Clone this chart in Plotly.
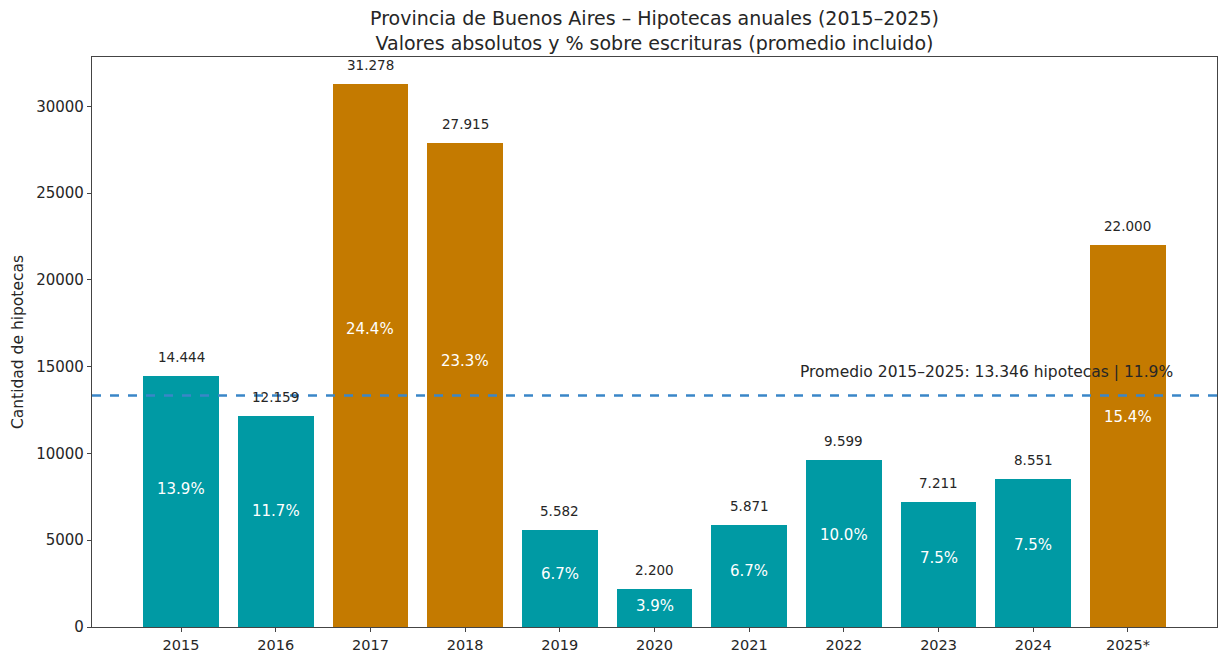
import plotly.graph_objects as go

years = ["2015", "2016", "2017", "2018", "2019", "2020", "2021", "2022", "2023", "2024", "2025*"]
hipotecas = [14444, 12159, 31278, 27915, 5582, 2200, 5871, 9599, 7211, 8551, 22000]
pct_escrituras = [13.9, 11.7, 24.4, 23.3, 6.7, 3.9, 6.7, 10.0, 7.5, 7.5, 15.4]
destacados = ["2017", "2018", "2025*"]
promedio_hip = 13346
promedio_pct = 11.9

TEAL = "#009aa4"
ORANGE = "#c47a00"
FONT = "DejaVu Sans"

def miles(v):
    return f"{v:,}".replace(",", ".")

xs = list(range(len(years)))
colors = [ORANGE if y in destacados else TEAL for y in years]

fig = go.Figure()
fig.add_trace(go.Bar(
    x=xs, y=hipotecas, width=0.8, marker=dict(color=colors, line=dict(width=0)),
    showlegend=False, hoverinfo="skip",
))

annotations = []
for x, v, p in zip(xs, hipotecas, pct_escrituras):
    annotations.append(dict(x=x, y=v, text=miles(v), showarrow=False, xref="x", yref="y",
                            yanchor="middle", yshift=19, font=dict(family=FONT, size=13.5, color="#262626")))
    annotations.append(dict(x=x, y=v * 0.55, text=f"{p:.1f}%", showarrow=False, xref="x", yref="y",
                            yanchor="middle", font=dict(family=FONT, size=15, color="white")))

annotations.append(dict(x=10.5, y=promedio_hip * 1.1, xref="x", yref="y", showarrow=False,
                        xanchor="right", yanchor="middle",
                        text=f"Promedio 2015–2025: {miles(promedio_hip)} hipotecas | {promedio_pct}%",
                        font=dict(family=FONT, size=15.5, color="#262626")))

fig.add_shape(type="line", xref="paper", x0=0, x1=1, yref="y", y0=promedio_hip, y1=promedio_hip,
              line=dict(color="#3a86c8", width=2.5, dash="dash"))

fig.update_layout(
    width=1219, height=652,
    margin=dict(l=92, r=2, t=57, b=25, autoexpand=False),
    paper_bgcolor="white", plot_bgcolor="white",
    font=dict(family=FONT, size=15, color="#262626"),
    title=dict(text="Provincia de Buenos Aires – Hipotecas anuales (2015–2025)<br>Valores absolutos y % sobre escrituras (promedio incluido)",
               x=(92 + 1217) / 2 / 1219, xanchor="center", xref="container",
               y=1 - 25 / 652, yanchor="top", yref="container",
               font=dict(family=FONT, size=19, color="#262626")),
    annotations=annotations,
    bargap=0,
)
fig.update_xaxes(range=[-0.94, 10.94], tickmode="array", tickvals=xs, ticktext=years,
                 showline=True, linecolor="#444", linewidth=1.2, mirror=True,
                 ticks="outside", ticklen=4, tickcolor="#444", showgrid=False, zeroline=False,
                 tickfont=dict(family=FONT, size=14.5, color="#262626"))
fig.update_yaxes(range=[0, 32850], tickmode="array", tickvals=[0, 5000, 10000, 15000, 20000, 25000, 30000],
                 ticktext=["0", "5000", "10000", "15000", "20000", "25000", "30000"],
                 showline=True, linecolor="#444", linewidth=1.2, mirror=True,
                 ticks="outside", ticklen=4, tickcolor="#444", showgrid=False, zeroline=False,
                 title=dict(text="Cantidad de hipotecas", standoff=8, font=dict(family=FONT, size=15.5)),
                 tickfont=dict(family=FONT, size=15, color="#262626"))

fig.write_html("out.html", config={"displayModeBar": False},
               post_script="document.body.style.margin='0px';")
